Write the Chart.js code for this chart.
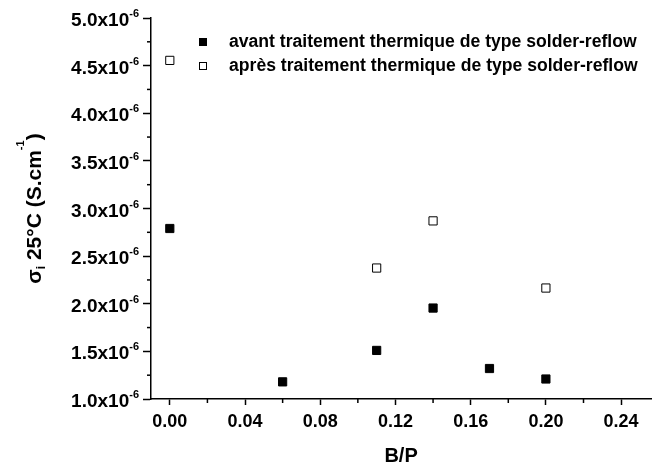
<!DOCTYPE html>
<html>
<head>
<meta charset="utf-8">
<script src="https://cdn.jsdelivr.net/npm/chart.js@4/dist/chart.umd.min.js"></script>
<style>body{margin:0;background:#fff}</style>
</head>
<body>
<canvas id="chart" width="658" height="468"></canvas>
<script>
let ratioBefore = [0, 0.06, 0.11, 0.14, 0.17, 0.20];
let sigmaBefore = [2.79e-6, 1.18e-6, 1.51e-6, 1.955e-6, 1.32e-6, 1.21e-6];
let ratioAfter = [0, 0.11, 0.14, 0.20];
let sigmaAfter = [4.555e-6, 2.375e-6, 2.87e-6, 2.165e-6];
let labelBefore = 'avant traitement thermique de type solder-reflow';
let labelAfter = 'après traitement thermique de type solder-reflow';
let xTickLabels = ['0.00', '0.04', '0.08', '0.12', '0.16', '0.20', '0.24'];
let yTickLabels = ['1.0', '1.5', '2.0', '2.5', '3.0', '3.5', '4.0', '4.5', '5.0'];
let yExponent = '-6';

const FONT = '"Liberation Sans", Arial, sans-serif';
Chart.defaults.font.family = FONT;
Chart.defaults.font.weight = 'bold';
Chart.defaults.color = '#000';

// y tick labels with exponent, y title with sub/superscript, minor ticks, legend
let extras = {
    id: 'extras',
    afterDraw(chart) {
        const ctx = chart.ctx;
        const xs = chart.scales.x, ys = chart.scales.y;
        const area = chart.chartArea;
        ctx.save();
        ctx.strokeStyle = '#000';
        ctx.fillStyle = '#000';
        ctx.lineWidth = 1.5;

        // minor ticks
        for (let i = 0; i < ys.ticks.length - 1; i++) {
            const py = (ys.getPixelForValue(ys.ticks[i].value) + ys.getPixelForValue(ys.ticks[i + 1].value)) / 2;
            ctx.beginPath(); ctx.moveTo(area.left - 4, py); ctx.lineTo(area.left, py); ctx.stroke();
        }
        for (let i = 0; i < xs.ticks.length - 1; i++) {
            const px = (xs.getPixelForValue(xs.ticks[i].value) + xs.getPixelForValue(xs.ticks[i + 1].value)) / 2;
            ctx.beginPath(); ctx.moveTo(px, area.bottom); ctx.lineTo(px, area.bottom + 4); ctx.stroke();
        }

        // y tick labels
        const rightEdge = 139;
        ctx.font = 'bold 11px ' + FONT;
        const supW = ctx.measureText(yExponent).width;
        ys.ticks.forEach((t, i) => {
            const py = ys.getPixelForValue(t.value);
            ctx.font = 'bold 19px ' + FONT;
            ctx.textAlign = 'right';
            ctx.textBaseline = 'alphabetic';
            ctx.fillText(yTickLabels[i] + 'x10', rightEdge - supW, py + 8);
            ctx.font = 'bold 11px ' + FONT;
            ctx.textAlign = 'left';
            ctx.fillText(yExponent, rightEdge - supW, py - 1);
        });

        // y title
        const parts = [
            {t: 'σ', size: 21, dy: 0},
            {t: 'i', size: 12, dy: 4},
            {t: ' 25°C (S.cm', size: 21, dy: 0},
            {t: '-1', size: 11, dy: -17},
            {t: ')', size: 21, dy: 0}
        ];
        let total = 0;
        parts.forEach(p => { ctx.font = 'bold ' + p.size + 'px ' + FONT; p.w = ctx.measureText(p.t).width; total += p.w; });
        ctx.translate(41, (area.top + area.bottom) / 2);
        ctx.rotate(-Math.PI / 2);
        ctx.textAlign = 'left';
        ctx.textBaseline = 'alphabetic';
        let u = -total / 2;
        parts.forEach(p => {
            ctx.font = 'bold ' + p.size + 'px ' + FONT;
            ctx.fillText(p.t, u, p.dy);
            u += p.w;
        });
        ctx.setTransform(1, 0, 0, 1, 0, 0);

        // legend
        const rows = [42, 66];
        chart.data.datasets.forEach((ds, i) => {
            const y = rows[i];
            ctx.lineWidth = 1;
            ctx.fillStyle = ds.pointBackgroundColor;
            ctx.fillRect(199.5, y - 3.5, 7, 7);
            ctx.strokeStyle = ds.pointBorderColor;
            ctx.strokeRect(199.5, y - 3.5, 7, 7);
            ctx.fillStyle = '#000';
            ctx.font = 'bold 17.6px ' + FONT;
            ctx.textAlign = 'left';
            ctx.textBaseline = 'middle';
            ctx.fillText(ds.label, 229, y);
        });
        ctx.restore();
    }
};

let ctx = document.getElementById('chart').getContext('2d');
let chart = new Chart(ctx, {
    type: 'scatter',
    data: {
        datasets: [{
            label: labelBefore,
            data: ratioBefore.map((x, i) => ({x: x, y: sigmaBefore[i]})),
            pointStyle: 'rect',
            pointRadius: 5.8,
            pointBackgroundColor: '#000',
            pointBorderColor: '#000',
            pointBorderWidth: 1
        }, {
            label: labelAfter,
            data: ratioAfter.map((x, i) => ({x: x, y: sigmaAfter[i]})),
            pointStyle: 'rect',
            pointRadius: 5.8,
            pointBackgroundColor: '#fff',
            pointBorderColor: '#000',
            pointBorderWidth: 1
        }]
    },
    options: {
        responsive: false,
        animation: false,
        layout: {padding: {top: 18, right: 0, left: 0, bottom: 0}},
        plugins: {legend: {display: false}, tooltip: {enabled: false}},
        scales: {
            x: {
                type: 'linear',
                min: -0.01,
                max: 0.256,
                border: {color: '#000', width: 1.5},
                grid: {drawOnChartArea: false, tickLength: 6, tickColor: '#000', tickWidth: 1.5},
                ticks: {
                    stepSize: 0.04,
                    includeBounds: false,
                    maxRotation: 0,
                    padding: 6,
                    font: {size: 18, weight: 'bold'},
                    callback: (v, i) => xTickLabels[i]
                },
                title: {display: true, text: 'B/P', font: {size: 20, weight: 'bold'}, padding: {top: 0, bottom: 0}},
                afterFit: s => { s.height = 69; }
            },
            y: {
                type: 'linear',
                min: 1e-6,
                max: 5e-6,
                border: {color: '#000', width: 1.5},
                grid: {drawOnChartArea: false, tickLength: 8, tickColor: '#000', tickWidth: 1.5},
                ticks: {stepSize: 0.5e-6, display: false},
                afterFit: s => { s.width = 151; }
            }
        }
    },
    plugins: [extras]
});
</script>
</body>
</html>
